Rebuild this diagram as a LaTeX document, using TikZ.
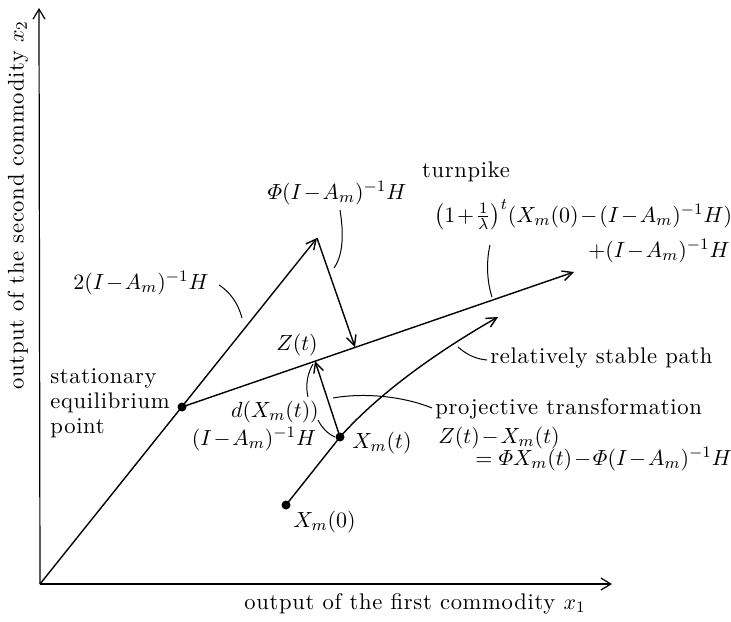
\documentclass[tikz,border=0pt]{standalone}
\usepackage{amsmath}
\usepackage{fontspec}
\newfontfamily\spacedfont{lmroman10-regular.otf}[LetterSpace=3]
\usetikzlibrary{arrows.meta}
\medmuskip=1.5mu plus 1mu minus 1mu
\begin{document}
\begin{tikzpicture}[x=0.5pt,y=-0.5pt,
  every node/.style={font=\spacedfont\fontsize{11.3}{12.6}\selectfont, inner sep=0pt},
  ax/.style={line width=0.6pt,-{Straight Barb[length=5pt,width=6pt]}},
  vec/.style={line width=0.7pt,-{Straight Barb[length=5pt,width=5pt]}},
  callout/.style={line width=0.5pt},
  dot/.style={circle,fill,inner sep=0pt,minimum size=4.5pt}]
\useasboundingbox (0,0) rectangle (731,621);

% points
\coordinate (O) at (40,584);
\coordinate (Ytip) at (39,8);
\coordinate (Xtip) at (612,584);
\node[dot] (E) at (182,407) {};
\coordinate (A) at (317,238);
\coordinate (P) at (355,347);
\coordinate (T) at (574,272);
\coordinate (Z) at (315,361);
\node[dot] (Xt) at (340,437) {};
\node[dot] (X0) at (286,505) {};
\coordinate (C) at (498,317);

% axes
\draw[ax] (O) -- (Ytip);
\draw[ax] (O) -- (Xtip);

% vectors
\draw[vec] (O) -- (A);
\draw[vec] (A) -- (P);
\draw[vec] (E.center) -- (T);
\draw[vec] (Xt.center) -- (Z);
\draw[vec] (X0.center) -- (Xt.center) .. controls (380,392) and (440,350) .. (C);

% labels
\node[rotate=90] (ylab) at (18,205) {output of the second commodity $x_2$};
\node (xlab) at (415,604) {output of the first commodity $x_1$};
\node (lphi) at (337,193) {$\varPhi(I-A_m)^{-1}H$};
\node (ltwo) at (141,283) {$2(I-A_m)^{-1}H$};
\node (lturn) at (466,172) {turnpike};
\node[anchor=west] (lform) at (434,215) {$\left(1+\frac{1}{\lambda}\right)^{t}\!(X_m(0)-(I-A_m)^{-1}H)$};
\node[anchor=west] (lplus) at (588,251) {$+(I-A_m)^{-1}H$};
\node (lZ) at (297,345) {$Z(t)$};
\node[anchor=west] (lrel) at (490,358) {relatively stable path};
\node[anchor=west] (lproj) at (435,409) {projective transformation};
\node[anchor=west] (lzx) at (438,438) {$Z(t)-X_m(t)$};
\node[anchor=west] (leq) at (475,459) {$=\varPhi X_m(t)-\varPhi(I-A_m)^{-1}H$};
\node (ld) at (275,412) {$d(X_m(t))$};
\node (linv) at (254,439) {$(I-A_m)^{-1}H$};
\node[anchor=west] (lXt) at (352,443) {$X_m(t)$};
\node[anchor=west] (lX0) at (293,522) {$X_m(0)$};
\node[anchor=west,align=left] (lstat) at (50,403) {stationary\\equilibrium\\point};

% callouts
\draw[callout] (340,210) .. controls (344,235) and (343,255) .. (334,268);
\draw[callout] (219,285) .. controls (230,292) and (238,303) .. (242,318);
\draw[callout] (490,245) .. controls (486,262) and (487,282) .. (492,297);
\draw[callout] (458,347) .. controls (466,354) and (475,359) .. (487,360);
\draw[callout] (432,408) .. controls (400,395) and (360,393) .. (333,398);
\draw[callout] (308,397) .. controls (305,385) and (308,372) .. (313,364);
\draw[callout] (318,420) .. controls (322,428) and (328,434) .. (335,437);
\end{tikzpicture}
\end{document}
